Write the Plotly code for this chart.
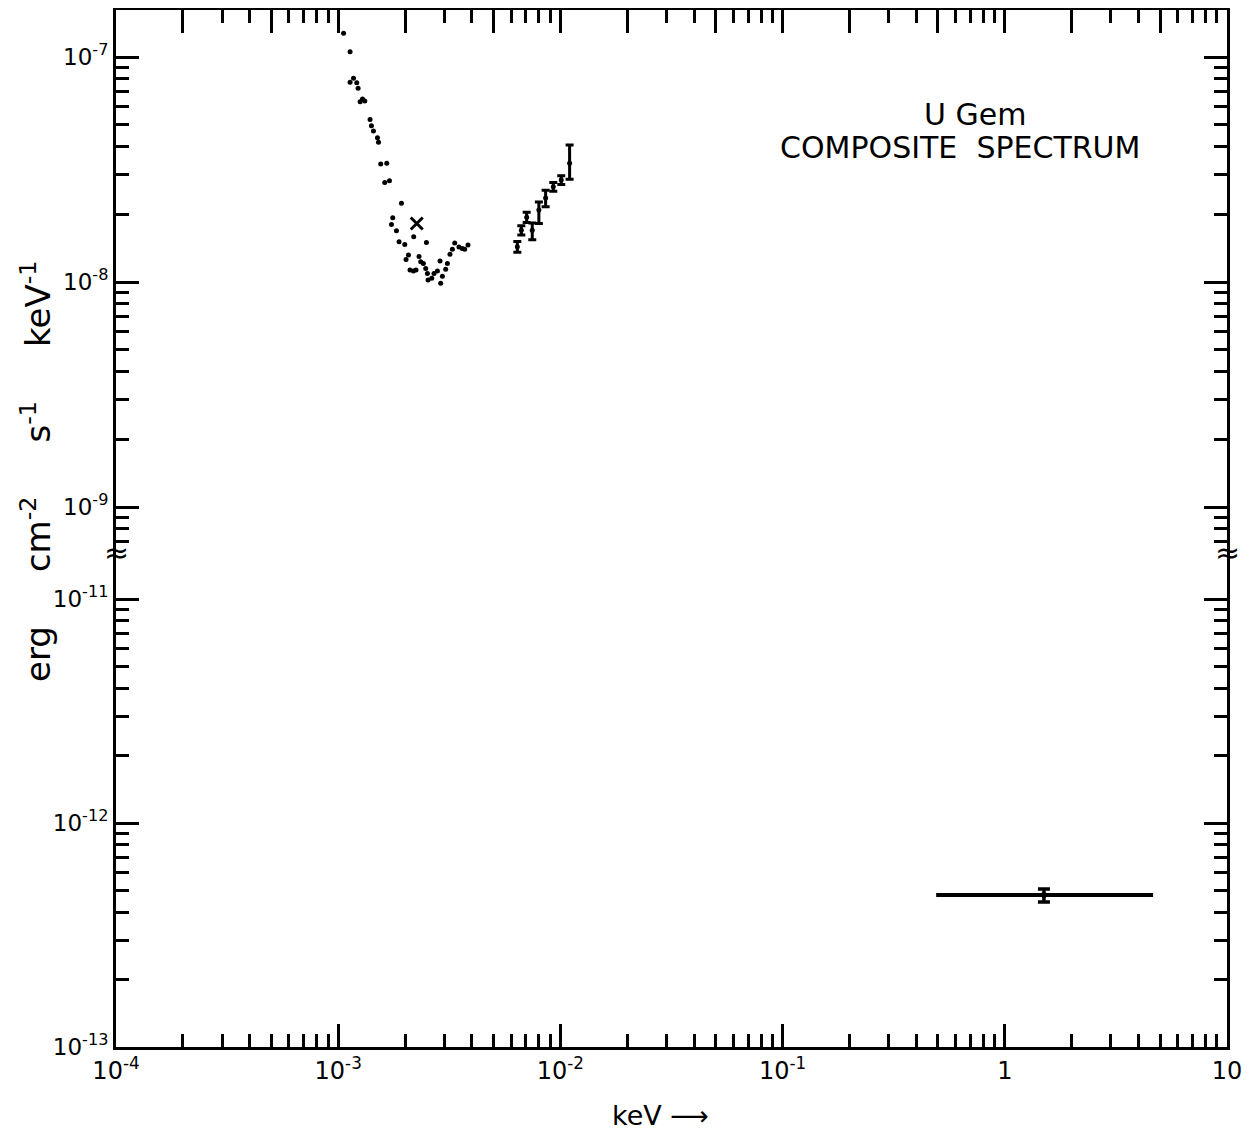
import plotly.graph_objects as go

# ---- data (keV, erg cm^-2 s^-1 keV^-1) ----
uv_kev = [1.057e-3, 1.131e-3, 1.131e-3, 1.172e-3, 1.212e-3, 1.229e-3, 1.255e-3, 1.286e-3,
          1.317e-3, 1.391e-3, 1.411e-3, 1.441e-3, 1.502e-3, 1.518e-3, 1.554e-3, 1.654e-3,
          1.620e-3, 1.701e-3, 1.926e-3, 1.760e-3, 1.737e-3, 1.829e-3, 2.187e-3, 1.879e-3,
          1.993e-3, 2.495e-3, 2.071e-3, 2.020e-3, 2.311e-3, 2.352e-3, 2.418e-3, 2.105e-3,
          2.181e-3, 2.240e-3, 2.477e-3, 2.521e-3, 2.537e-3, 2.636e-3, 2.699e-3, 2.796e-3,
          2.872e-3, 2.944e-3, 2.892e-3, 3.046e-3, 3.101e-3, 3.185e-3, 3.265e-3, 3.344e-3,
          3.496e-3, 3.621e-3, 3.709e-3, 3.838e-3]
uv_flux = [1.274e-7, 1.056e-7, 7.72e-8, 8.04e-8, 7.69e-8, 7.26e-8, 6.33e-8, 6.51e-8,
           6.37e-8, 5.28e-8, 4.95e-8, 4.69e-8, 4.38e-8, 4.18e-8, 3.35e-8, 3.37e-8,
           2.77e-8, 2.82e-8, 2.24e-8, 1.93e-8, 1.80e-8, 1.69e-8, 1.59e-8, 1.51e-8,
           1.47e-8, 1.50e-8, 1.32e-8, 1.26e-8, 1.30e-8, 1.23e-8, 1.21e-8, 1.13e-8,
           1.12e-8, 1.13e-8, 1.15e-8, 1.09e-8, 1.02e-8, 1.04e-8, 1.09e-8, 1.12e-8,
           1.24e-8, 1.06e-8, 9.87e-9, 1.14e-8, 1.21e-8, 1.33e-8, 1.40e-8, 1.49e-8,
           1.43e-8, 1.41e-8, 1.40e-8, 1.46e-8]

cross_kev = [2.257e-3]
cross_flux = [1.82e-8]

euv_kev = [6.40e-3, 6.67e-3, 7.05e-3, 7.47e-3, 8.00e-3, 8.58e-3, 9.29e-3, 1.009e-2, 1.100e-2]
euv_flux = [1.435e-8, 1.70e-8, 1.94e-8, 1.70e-8, 2.09e-8, 2.36e-8, 2.65e-8, 2.84e-8, 3.37e-8]
euv_err_hi = [0.08e-8, 0.08e-8, 0.10e-8, 0.13e-8, 0.18e-8, 0.20e-8, 0.12e-8, 0.13e-8, 0.69e-8]
euv_err_lo = [0.08e-8, 0.08e-8, 0.10e-8, 0.16e-8, 0.27e-8, 0.20e-8, 0.12e-8, 0.13e-8, 0.51e-8]

xray_kev = [1.50]
xray_flux = [4.77e-13]
xray_kev_lo = [0.491]
xray_kev_hi = [4.65]
xray_flux_lo = [4.44e-13]
xray_flux_hi = [5.07e-13]

x_tickvals = [1e-4, 1e-3, 1e-2, 1e-1, 1, 10]
x_ticktext = ["10<sup>-4</sup>", "10<sup>-3</sup>", "10<sup>-2</sup>", "10<sup>-1</sup>", "1", "10"]
y_top_tickvals = [1e-9, 1e-8, 1e-7]
y_top_ticktext = ["10<sup>-9</sup>", "10<sup>-8</sup>", "10<sup>-7</sup>"]
y_bot_tickvals = [1e-13, 1e-12, 1e-11]
y_bot_ticktext = ["10<sup>-13</sup>", "10<sup>-12</sup>", "10<sup>-11</sup>"]

FONT = "DejaVu Sans"
SPLIT = 0.4773

fig = go.Figure()

fig.add_trace(go.Scatter(x=uv_kev, y=uv_flux, mode="markers",
                         marker=dict(color="black", size=5), xaxis="x", yaxis="y",
                         showlegend=False))
fig.add_trace(go.Scatter(x=cross_kev, y=cross_flux, mode="markers",
                         marker=dict(color="black", size=12, symbol="x-thin",
                                     line=dict(width=3, color="black")),
                         xaxis="x", yaxis="y", showlegend=False))
fig.add_trace(go.Scatter(x=euv_kev, y=euv_flux, mode="markers",
                         marker=dict(color="black", size=5),
                         error_y=dict(type="data", symmetric=False, array=euv_err_hi,
                                      arrayminus=euv_err_lo, color="black",
                                      thickness=3, width=4),
                         xaxis="x", yaxis="y", showlegend=False))
fig.add_trace(go.Scatter(x=xray_kev, y=xray_flux, mode="markers",
                         marker=dict(color="black", size=6),
                         error_x=dict(type="data", symmetric=False,
                                      array=[xray_kev_hi[0] - xray_kev[0]],
                                      arrayminus=[xray_kev[0] - xray_kev_lo[0]],
                                      color="black", thickness=4, width=0),
                         error_y=dict(type="data", symmetric=False,
                                      array=[xray_flux_hi[0] - xray_flux[0]],
                                      arrayminus=[xray_flux[0] - xray_flux_lo[0]],
                                      color="black", thickness=3.5, width=6),
                         xaxis="x2", yaxis="y2", showlegend=False))

minor_common = dict(ticks="inside", ticklen=13, tickwidth=2.5, tickcolor="black", dtick="D1",
                    showgrid=False)

axis_common = dict(type="log", showline=True, linewidth=3, linecolor="black",
                   ticks="inside", ticklen=23, tickwidth=2.5, tickcolor="black",
                   showgrid=False, zeroline=False, minor=minor_common,
                   tickfont=dict(family=FONT, size=24, color="black"))

fig.update_layout(
    width=1242, height=1124,
    margin=dict(l=108, r=23, t=2, b=85),
    paper_bgcolor="white", plot_bgcolor="white",
    font=dict(family=FONT, color="black"),
    xaxis=dict(axis_common, range=[-4, 1], anchor="y", side="top",
               showticklabels=False, mirror=False),
    xaxis2=dict(axis_common, range=[-4, 1], anchor="y2", side="bottom",
                tickvals=x_tickvals, ticktext=x_ticktext, mirror=False),
    yaxis=dict(axis_common, range=[-9.2, -6.791], domain=[SPLIT, 1], anchor="x",
               mirror="ticks", tickvals=y_top_tickvals, ticktext=y_top_ticktext,
               tickfont=dict(family=FONT, size=23, color="black")),
    yaxis2=dict(axis_common, range=[-13, -10.79], domain=[0, SPLIT], anchor="x2",
                mirror="ticks", tickvals=y_bot_tickvals, ticktext=y_bot_ticktext,
                tickfont=dict(family=FONT, size=23, color="black")),
)

SP = "&nbsp;" * 5
annos = [
    dict(x=0.0, y=SPLIT, xref="paper", yref="paper", text="≈", showarrow=False,
         font=dict(family=FONT, size=30, color="black"), xanchor="center", yanchor="middle"),
    dict(x=1.0, y=SPLIT, xref="paper", yref="paper", text="≈", showarrow=False,
         font=dict(family=FONT, size=30, color="black"), xanchor="center", yanchor="middle"),
    dict(x=-0.072, y=0.5545, xref="paper", yref="paper", textangle=-90, showarrow=False,
         text="erg" + SP + "cm<sup>-2</sup>" + SP + "s<sup>-1</sup>" + SP + "keV<sup>-1</sup>",
         font=dict(family=FONT, size=34, color="black"), xanchor="center", yanchor="middle"),
    dict(x=0.49, y=-0.0656, xref="paper", yref="paper", showarrow=False,
         text="keV ⟶", font=dict(family=FONT, size=27, color="black"),
         xanchor="center", yanchor="middle"),
    dict(x=0.773, y=0.899, xref="paper", yref="paper", showarrow=False,
         text="U Gem", font=dict(family=FONT, size=30, color="black"),
         xanchor="center", yanchor="middle"),
    dict(x=0.760, y=0.867, xref="paper", yref="paper", showarrow=False,
         text="COMPOSITE  SPECTRUM", font=dict(family=FONT, size=30, color="black"),
         xanchor="center", yanchor="middle"),
]
fig.update_layout(annotations=annos)

fig.write_html("out.html")
